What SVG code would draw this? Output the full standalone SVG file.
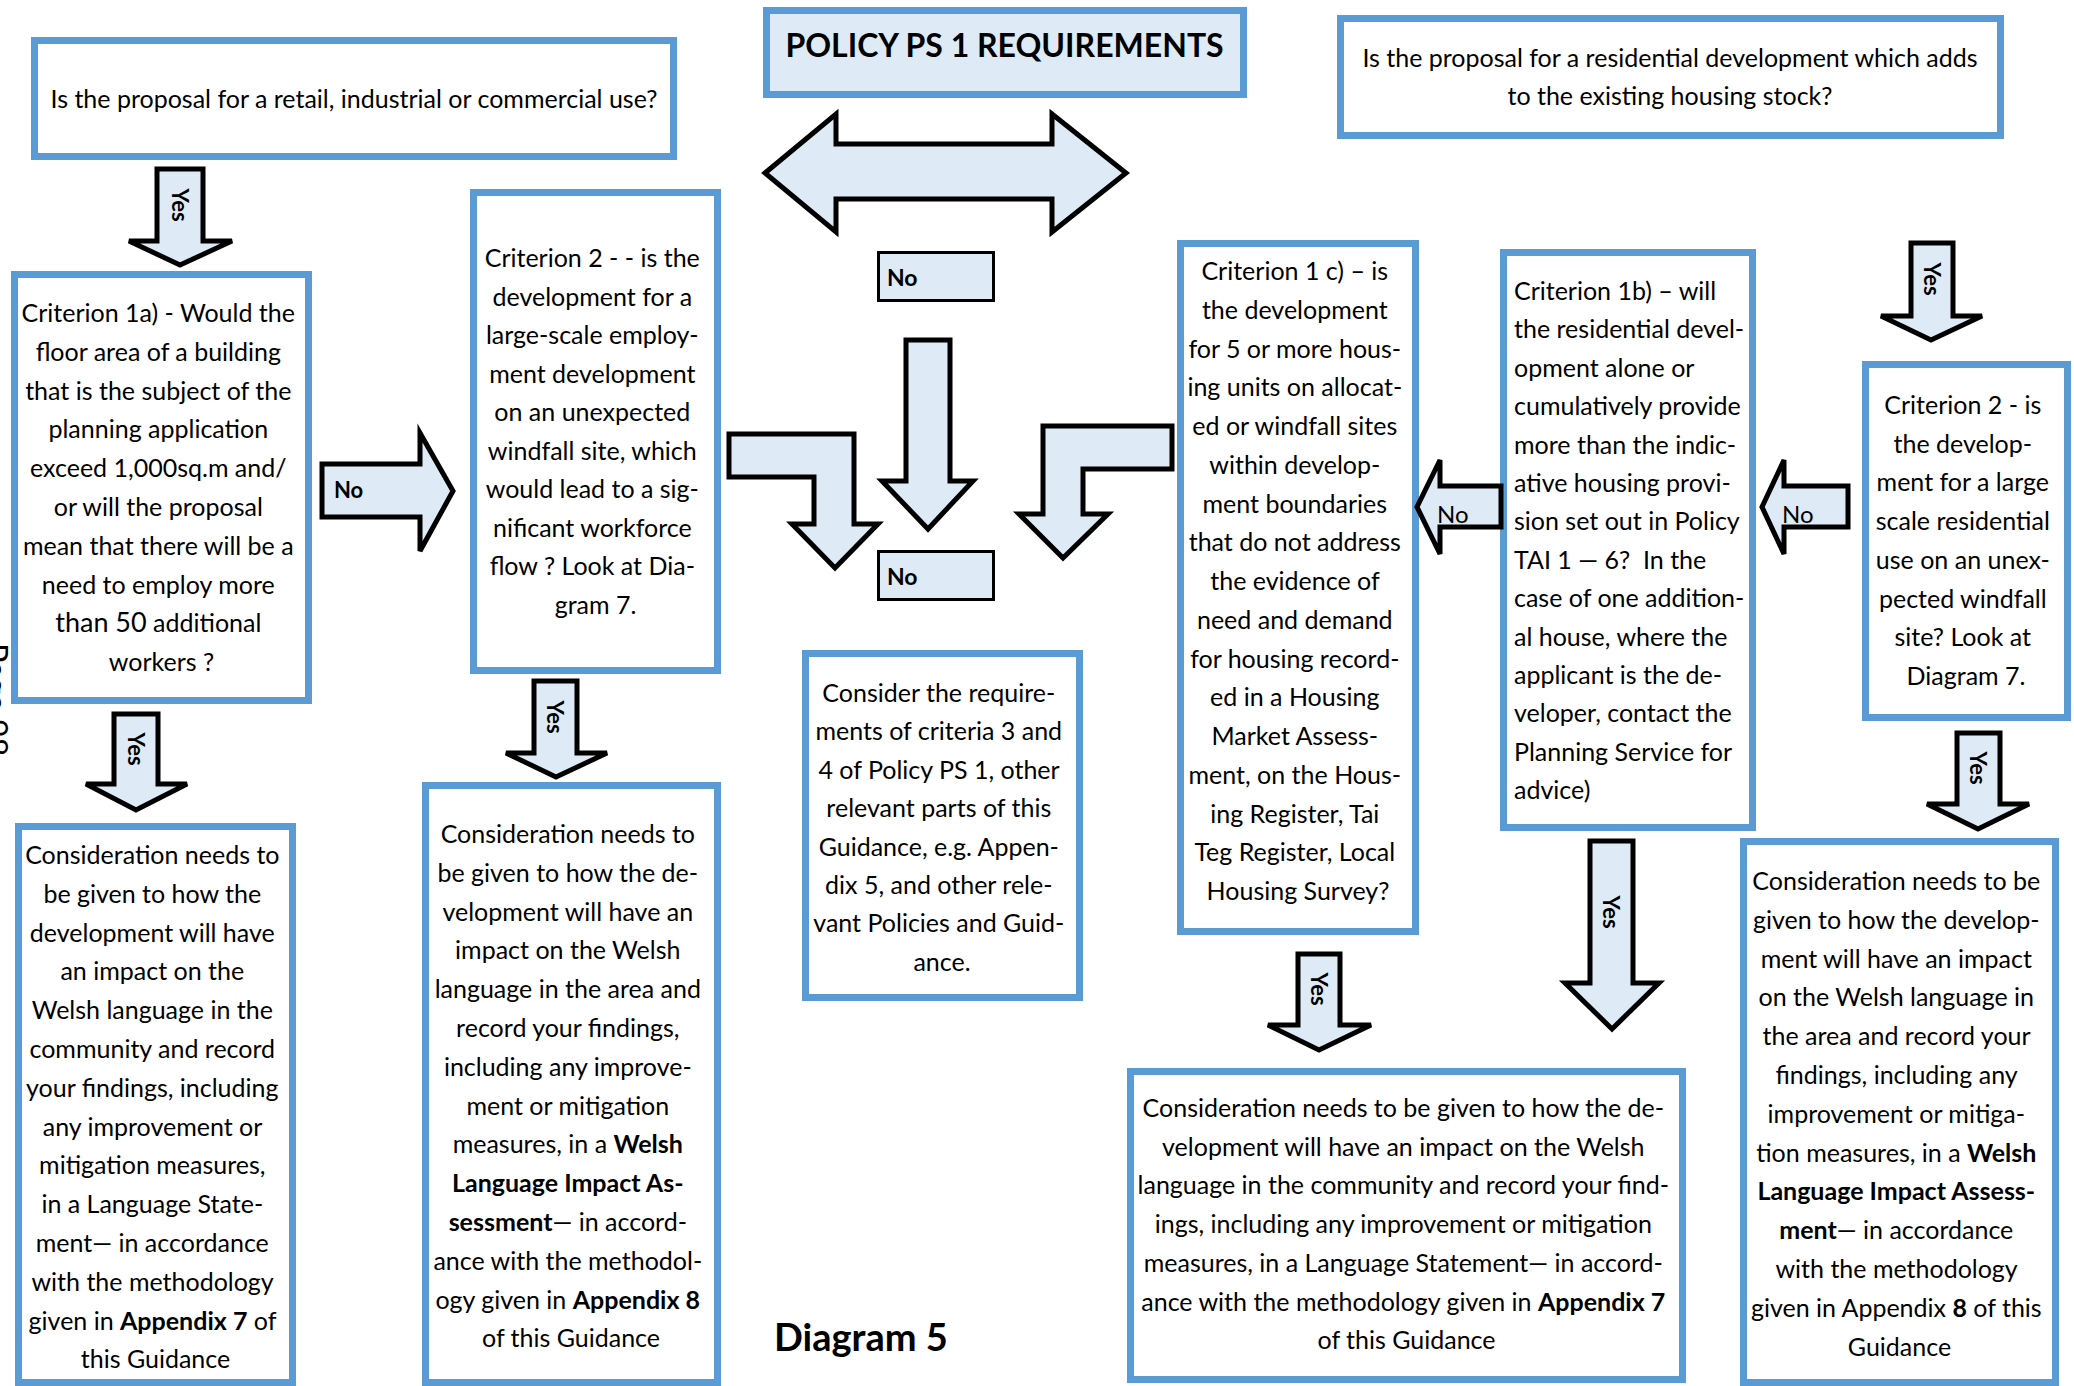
<svg xmlns="http://www.w3.org/2000/svg" width="2074" height="1386" viewBox="0 0 2074 1386">
<style>
.box{fill:#fff;stroke:#5B9BD5;stroke-width:7}
.tbox{fill:#DEEBF7;stroke:#5B9BD5;stroke-width:7}
.arr{fill:#DEEBF7;stroke:#000;stroke-width:5;stroke-linejoin:miter}
.nob{fill:#DEEBF7;stroke:#000;stroke-width:3}
text{font-family:Lato,"Liberation Sans",sans-serif;font-size:25px;fill:#000}
.c{text-anchor:middle}
.b{font-weight:700}
.yes{font-weight:700;font-size:22px;text-anchor:middle;dominant-baseline:central}
</style>
<rect width="2074" height="1386" fill="#fff"/>
<text transform="translate(-16,643) rotate(90)" style="font-size:32px">Page 98</text>

<g id="title">
<rect class="tbox" x="766.5" y="10.5" width="477" height="84"/>
<text class="c b" x="1004.5" y="57" style="font-size:32px">POLICY PS 1 REQUIREMENTS</text>
</g>

<g id="q-retail">
<rect class="box" x="34.5" y="40.5" width="639" height="116"/>
<text class="c" x="354" y="108">Is the proposal for a retail, industrial or commercial use?</text>
</g>

<g id="q-residential">
<rect class="box" x="1340.5" y="18.5" width="660" height="117"/>
<text class="c"><tspan x="1670" y="67">Is the proposal for a residential development which adds</tspan><tspan x="1670" y="105">to the existing housing stock?</tspan></text>
</g>

<g id="crit-1a">
<rect class="box" x="14.5" y="274.5" width="294" height="426"/>
<text class="c">
<tspan x="161.5" y="322">Criterion 1a) - Would the</tspan>
<tspan x="161.5" y="361">floor area of a building</tspan>
<tspan x="161.5" y="400">that is the subject of the</tspan>
<tspan x="161.5" y="438">planning application</tspan>
<tspan x="161.5" y="477">exceed 1,000sq.m and/</tspan>
<tspan x="161.5" y="516">or will the proposal</tspan>
<tspan x="161.5" y="555">mean that there will be a</tspan>
<tspan x="161.5" y="594">need to employ more</tspan>
<tspan x="161.5" y="632"><tspan style="font-size:27px">than 50</tspan> additional</tspan>
<tspan x="161.5" y="671">workers ?</tspan>
</text>
</g>

<g id="crit-2-employment">
<rect class="box" x="473.5" y="192.5" width="244" height="478"/>
<text class="c">
<tspan x="595.5" y="267">Criterion 2 - - is the</tspan>
<tspan x="595.5" y="305.5">development for a</tspan>
<tspan x="595.5" y="344">large-scale employ-</tspan>
<tspan x="595.5" y="382.5">ment development</tspan>
<tspan x="595.5" y="421">on an unexpected</tspan>
<tspan x="595.5" y="459.5">windfall site, which</tspan>
<tspan x="595.5" y="498">would lead to a sig-</tspan>
<tspan x="595.5" y="536.5">nificant workforce</tspan>
<tspan x="595.5" y="575">flow ? Look at Dia-</tspan>
<tspan x="595.5" y="613.5">gram 7.</tspan>
</text>
</g>

<g id="consider-ls-left">
<rect class="box" x="18.5" y="826.5" width="274" height="556"/>
<text class="c">
<tspan x="155.5" y="864">Consideration needs to</tspan>
<tspan x="155.5" y="902.8">be given to how the</tspan>
<tspan x="155.5" y="941.6">development will have</tspan>
<tspan x="155.5" y="980.4">an impact on the</tspan>
<tspan x="155.5" y="1019.2">Welsh language in the</tspan>
<tspan x="155.5" y="1058">community and record</tspan>
<tspan x="155.5" y="1096.8">your findings, including</tspan>
<tspan x="155.5" y="1135.6">any improvement or</tspan>
<tspan x="155.5" y="1174.4">mitigation measures,</tspan>
<tspan x="155.5" y="1213.2">in a Language State-</tspan>
<tspan x="155.5" y="1252">ment— in accordance</tspan>
<tspan x="155.5" y="1290.8">with the methodology</tspan>
<tspan x="155.5" y="1329.6">given in <tspan class="b">Appendix 7</tspan> of</tspan>
<tspan x="155.5" y="1368.4">this Guidance</tspan>
</text>
</g>

<g id="consider-wlia-left">
<rect class="box" x="425.5" y="785.5" width="292" height="597"/>
<text class="c">
<tspan x="571" y="843">Consideration needs to</tspan>
<tspan x="571" y="881.8">be given to how the de-</tspan>
<tspan x="571" y="920.6">velopment will have an</tspan>
<tspan x="571" y="959.4">impact on the Welsh</tspan>
<tspan x="571" y="998.2">language in the area and</tspan>
<tspan x="571" y="1037">record your findings,</tspan>
<tspan x="571" y="1075.8">including any improve-</tspan>
<tspan x="571" y="1114.6">ment or mitigation</tspan>
<tspan x="571" y="1153.4">measures, in a <tspan class="b">Welsh</tspan></tspan>
<tspan x="571" y="1192.2" class="b">Language Impact As-</tspan>
<tspan x="571" y="1231"><tspan class="b">sessment</tspan>— in accord-</tspan>
<tspan x="571" y="1269.8">ance with the methodol-</tspan>
<tspan x="571" y="1308.6">ogy given in <tspan class="b">Appendix 8</tspan></tspan>
<tspan x="571" y="1347.4">of this Guidance</tspan>
</text>
</g>

<g id="no-box-top">
<rect class="nob" x="878.5" y="252.5" width="115" height="48"/>
<text class="b" x="887" y="286" style="font-size:23px">No</text>
</g>

<g id="no-box-bottom">
<rect class="nob" x="878.5" y="551.5" width="115" height="48"/>
<text class="b" x="887" y="585" style="font-size:23px">No</text>
</g>

<g id="consider-other">
<rect class="box" x="805.5" y="653.5" width="274" height="344"/>
<text class="c">
<tspan x="942" y="702">Consider the require-</tspan>
<tspan x="942" y="740.4">ments of criteria 3 and</tspan>
<tspan x="942" y="778.8">4 of Policy PS 1, other</tspan>
<tspan x="942" y="817.2">relevant parts of this</tspan>
<tspan x="942" y="855.6">Guidance, e.g. Appen-</tspan>
<tspan x="942" y="894">dix 5, and other rele-</tspan>
<tspan x="942" y="932.4">vant Policies and Guid-</tspan>
<tspan x="942" y="970.8">ance.</tspan>
</text>
</g>

<g id="diagram-label">
<text class="b" x="774" y="1351" style="font-size:38px">Diagram 5</text>
</g>

<g id="crit-1c">
<rect class="box" x="1180.5" y="243.5" width="235" height="688"/>
<text class="c">
<tspan x="1298" y="280">Criterion 1 c) – is</tspan>
<tspan x="1298" y="318.75">the development</tspan>
<tspan x="1298" y="357.5">for 5 or more hous-</tspan>
<tspan x="1298" y="396.25">ing units on allocat-</tspan>
<tspan x="1298" y="435">ed or windfall sites</tspan>
<tspan x="1298" y="473.75">within develop-</tspan>
<tspan x="1298" y="512.5">ment boundaries</tspan>
<tspan x="1298" y="551.25">that do not address</tspan>
<tspan x="1298" y="590">the evidence of</tspan>
<tspan x="1298" y="628.75">need and demand</tspan>
<tspan x="1298" y="667.5">for housing record-</tspan>
<tspan x="1298" y="706.25">ed in a Housing</tspan>
<tspan x="1298" y="745">Market Assess-</tspan>
<tspan x="1298" y="783.75">ment, on the Hous-</tspan>
<tspan x="1298" y="822.5">ing Register, Tai</tspan>
<tspan x="1298" y="861.25">Teg Register, Local</tspan>
<tspan x="1298" y="900">Housing Survey?</tspan>
</text>
</g>

<g id="crit-1b">
<rect class="box" x="1503.5" y="252.5" width="249" height="575"/>
<text>
<tspan x="1514" y="300">Criterion 1b) – will</tspan>
<tspan x="1514" y="338.4">the residential devel-</tspan>
<tspan x="1514" y="376.8">opment alone or</tspan>
<tspan x="1514" y="415.2">cumulatively provide</tspan>
<tspan x="1514" y="453.6">more than the indic-</tspan>
<tspan x="1514" y="492">ative housing provi-</tspan>
<tspan x="1514" y="530.4">sion set out in Policy</tspan>
<tspan x="1514" y="568.8">TAI 1 — 6?&#160; In the</tspan>
<tspan x="1514" y="607.2">case of one addition-</tspan>
<tspan x="1514" y="645.6">al house, where the</tspan>
<tspan x="1514" y="684">applicant is the de-</tspan>
<tspan x="1514" y="722.4">veloper, contact the</tspan>
<tspan x="1514" y="760.8">Planning Service for</tspan>
<tspan x="1514" y="799.2">advice)</tspan>
</text>
</g>

<g id="crit-2-residential">
<rect class="box" x="1865.5" y="364.5" width="202" height="353"/>
<text class="c">
<tspan x="1966" y="414">Criterion 2 - is</tspan>
<tspan x="1966" y="452.7">the develop-</tspan>
<tspan x="1966" y="491.4">ment for a large</tspan>
<tspan x="1966" y="530.1">scale residential</tspan>
<tspan x="1966" y="568.8">use on an unex-</tspan>
<tspan x="1966" y="607.5">pected windfall</tspan>
<tspan x="1966" y="646.2">site? Look at</tspan>
<tspan x="1966" y="684.9">Diagram 7.</tspan>
</text>
</g>

<g id="consider-ls-right">
<rect class="box" x="1130.5" y="1071.5" width="552" height="308"/>
<text class="c">
<tspan x="1406.5" y="1117">Consideration needs to be given to how the de-</tspan>
<tspan x="1406.5" y="1155.7">velopment will have an impact on the Welsh</tspan>
<tspan x="1406.5" y="1194.4">language in the community and record your find-</tspan>
<tspan x="1406.5" y="1233.1">ings, including any improvement or mitigation</tspan>
<tspan x="1406.5" y="1271.8">measures, in a Language Statement— in accord-</tspan>
<tspan x="1406.5" y="1310.5">ance with the methodology given in <tspan class="b">Appendix 7</tspan></tspan>
<tspan x="1406.5" y="1349.2">of this Guidance</tspan>
</text>
</g>

<g id="consider-wlia-right">
<rect class="box" x="1743.5" y="841.5" width="312" height="541"/>
<text class="c">
<tspan x="1899.5" y="890">Consideration needs to be</tspan>
<tspan x="1899.5" y="928.8">given to how the develop-</tspan>
<tspan x="1899.5" y="967.6">ment will have an impact</tspan>
<tspan x="1899.5" y="1006.4">on the Welsh language in</tspan>
<tspan x="1899.5" y="1045.2">the area and record your</tspan>
<tspan x="1899.5" y="1084">findings, including any</tspan>
<tspan x="1899.5" y="1122.8">improvement or mitiga-</tspan>
<tspan x="1899.5" y="1161.6">tion measures, in a <tspan class="b">Welsh</tspan></tspan>
<tspan x="1899.5" y="1200.4" class="b">Language Impact Assess-</tspan>
<tspan x="1899.5" y="1239.2"><tspan class="b">ment</tspan>— in accordance</tspan>
<tspan x="1899.5" y="1278">with the methodology</tspan>
<tspan x="1899.5" y="1316.8">given in Appendix <tspan class="b">8</tspan> of this</tspan>
<tspan x="1899.5" y="1355.6">Guidance</tspan>
</text>
</g>

<g id="connectors">
<path class="arr" d="M765 173 L836 114 V144 H1052 V114 L1126 173 L1052 232 V199 H836 V232 Z"/>
<path class="arr" d="M906 340 H950 V481 H973 L928 529 L882 481 H906 Z"/>
<path class="arr" d="M729 434 H854 V524 H878 L835 568 L792 524 H814 V477 H729 Z"/>
<path class="arr" d="M1172 426 H1043 V514 H1019 L1063 558 L1108 514 H1083 V469 H1172 Z"/>
<path class="arr" d="M322 464 H420 V433 L453 491 L420 551 V517 H322 Z"/>
<text class="b" x="334" y="498" style="font-size:22px">No</text>
<path class="arr" d="M1501 486 H1440 V460 L1417 507 L1440 554 V527 H1501 Z"/>
<text x="1437" y="523" style="font-size:24px">No</text>
<path class="arr" d="M1848 486 H1784 V460 L1762 507 L1784 554 V527 H1848 Z"/>
<text x="1782" y="523" style="font-size:24px">No</text>
<path class="arr" d="M157 169 H203 V241 H232 L180 265 L129 241 H157 Z"/>
<text class="yes" transform="translate(180,205) rotate(90)">Yes</text>
<path class="arr" d="M114 714 H158 V784 H187 L136 810 L86 784 H114 Z"/>
<text class="yes" transform="translate(136,749) rotate(90)">Yes</text>
<path class="arr" d="M534 681 H577 V753 H607 L556 777 L506 753 H534 Z"/>
<text class="yes" transform="translate(555.5,717) rotate(90)">Yes</text>
<path class="arr" d="M1298 954 H1340 V1025 H1371 L1319 1050 L1268 1025 H1298 Z"/>
<text class="yes" transform="translate(1319,989) rotate(90)">Yes</text>
<path class="arr" d="M1911 243 H1953 V316 H1982 L1931 340 L1881 316 H1911 Z"/>
<text class="yes" transform="translate(1932,279) rotate(90)">Yes</text>
<path class="arr" d="M1957 733 H2000 V804 H2029 L1978 829 L1927 804 H1957 Z"/>
<text class="yes" transform="translate(1978.5,768) rotate(90)">Yes</text>
<path class="arr" d="M1590 841 H1633 V983 H1659 L1612 1029 L1565 983 H1590 Z"/>
<text class="yes" transform="translate(1611.5,912) rotate(90)">Yes</text>
</g>
</svg>
